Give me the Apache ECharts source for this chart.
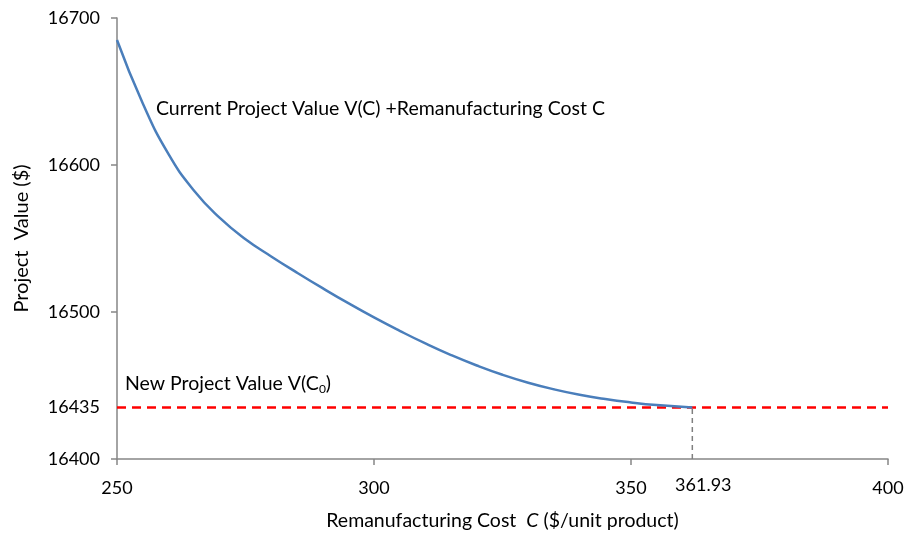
<!DOCTYPE html>
<html><head><meta charset="utf-8">
<script src="https://cdn.jsdelivr.net/npm/echarts@6/dist/echarts.min.js"></script>
<style>html,body{margin:0;padding:0;background:#fff}#c{width:907px;height:533px}</style>
</head><body><div id="c"></div>
<script>
const costs = [250,255,260,265,270,275,280,285,290,295,300,305,310,315,320,325,330,335,340,345,350,355,361.93];
const values = [16685,16642,16607.5,16582.5,16564,16549.5,16537.8,16526.8,16516.2,16506,16496.3,16487.2,16478.6,16470.7,16463.6,16457.3,16451.9,16447.4,16443.7,16440.8,16438.5,16436.7,16435];
const newValue = 16435;
const breakCost = 361.93;
const xRange = [250, 400];
const yRange = [16400, 16700];
const xTickLabels = [250, 300, 350, 400];
const xTicks = [250, 300, 350, 400];
const yTickLabels = [16400, 16435, 16500, 16600, 16700];
const yTicks = [16400, 16500, 16600, 16700];

const FONT = 'Lato';
const chart = echarts.init(document.getElementById('c'));
const axisCol = '#868686';
chart.setOption({
  animation: false,
  textStyle: {fontFamily: FONT, color: '#000'},
  grid: {left: 117, right: 19, top: 18, bottom: 74, containLabel: false, outerBoundsMode: 'none'},
  xAxis: {
    type: 'value', min: xRange[0], max: xRange[1],
    axisLine: {lineStyle: {color: axisCol, width: 1.5}},
    axisTick: {customValues: xTicks, length: 6, lineStyle: {color: axisCol, width: 1.5}},
    axisLabel: {customValues: xTickLabels, color: '#000', fontSize: 18, margin: 20, fontFamily: FONT,
      formatter: v => String(v)},
    splitLine: {show: false},
    name: 'Remanufacturing Cost  {i|C} ($/unit product)',
    nameLocation: 'middle', nameGap: 52,
    nameTextStyle: {fontSize: 19.5, color: '#000', fontFamily: FONT,
      rich: {i: {fontStyle: 'italic', fontSize: 19.5, fontFamily: FONT}}}
  },
  yAxis: {
    type: 'value', min: yRange[0], max: yRange[1],
    axisLine: {show: true, lineStyle: {color: axisCol, width: 1.5}},
    axisTick: {show: true, customValues: yTicks, length: 6, lineStyle: {color: axisCol, width: 1.5}},
    axisLabel: {customValues: yTickLabels, color: '#000', fontSize: 18, margin: 17, fontFamily: FONT,
      formatter: v => String(v)},
    splitLine: {show: false},
    name: 'Project  Value ($)', nameLocation: 'middle', nameGap: 85,
    nameTextStyle: {fontSize: 20, color: '#000', fontFamily: FONT}
  },
  series: [
    {
      type: 'line', data: xRange.map(x => [x, newValue]), showSymbol: false,
      lineStyle: {color: '#ff0000', width: 2.5, type: [9, 6]}, z: 2
    },
    {
      type: 'line', data: [[breakCost, yRange[0]], [breakCost, newValue]], showSymbol: false,
      lineStyle: {color: '#7f7f7f', width: 1.5, type: [5, 4]}, z: 2
    },
    {
      type: 'scatter', data: [[breakCost, yRange[0]]], symbolSize: 1, silent: true,
      itemStyle: {color: 'rgba(0,0,0,0)', opacity: 1},
      label: {show: true, position: 'bottom', distance: 17, offset: [11, 0], opacity: 1,
        formatter: p => String(p.value[0]), fontSize: 18, fontFamily: FONT, color: '#000',
        textBorderWidth: 0}
    },
    {
      type: 'line', data: costs.map((c, i) => [c, values[i]]), showSymbol: false, smooth: true,
      lineStyle: {color: '#4a7ebb', width: 2.5}, z: 3
    }
  ],
  graphic: [
    {type: 'text', left: 156, top: 99, style: {text: 'Current Project Value V(C) +Remanufacturing Cost C',
      font: '19.5px ' + FONT, fill: '#000'}},
    {type: 'text', left: 125, top: 374, style: {text: 'New Project Value V(C{s|0})',
      font: '19.5px ' + FONT, fill: '#000',
      rich: {s: {fontSize: 12, fontFamily: FONT, verticalAlign: 'bottom', padding: [10, 0, 0, 0]}}}}
  ]
});
</script></body></html>
